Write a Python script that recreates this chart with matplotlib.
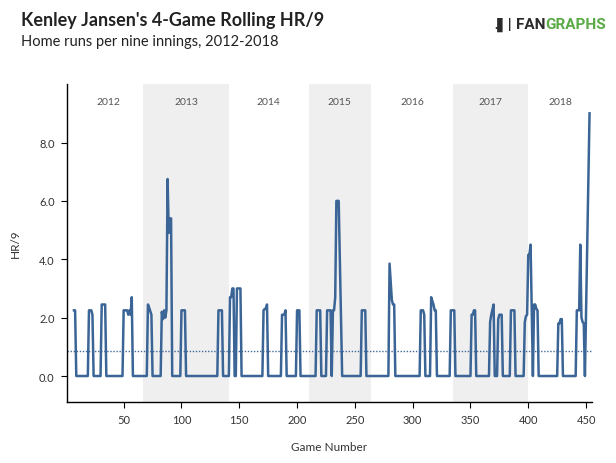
import matplotlib
matplotlib.use("Agg")
import matplotlib.pyplot as plt

# -----------------------------
# Data
# -----------------------------

# break points of the 4-game rolling HR/9 line
game = [7, 8, 9,
        19, 20, 22, 23, 24,
        30, 31, 34, 35,
        49, 50, 53, 54, 55, 56, 57, 58,
        70, 71, 72, 74, 75,
        82, 83, 84, 85, 86, 87, 88, 89, 90, 91, 92,
        99, 100, 103, 104,
        131, 132, 135, 136,
        141, 142, 143, 144, 145, 146, 147, 148, 151, 152,
        170, 171, 172, 173, 174, 175,
        186, 187, 189, 190, 191,
        199, 200, 202, 203,
        216, 217, 220, 221,
        225, 226, 229, 230, 231, 232, 233, 234, 236, 239,
        255, 256, 259, 260,
        279, 280, 282, 283, 284, 285,
        306, 307, 309, 310, 311,
        315, 316, 318, 319, 320, 321,
        332, 333, 336, 337,
        350, 351, 352, 353, 354, 355,
        366, 367, 368, 370, 371, 373, 374, 375, 377, 378,
        384, 385, 388, 389,
        396, 397, 398, 399, 400, 401, 402, 404, 405, 406, 407, 408, 409,
        425, 426, 427, 428, 429, 430,
        441, 442, 444, 445, 446, 447, 448, 449, 453]

hr9 = [2.25, 2.25, 0,
       0, 2.25, 2.25, 2.1, 0,
       0, 2.45, 2.45, 0,
       0, 2.25, 2.25, 2.1, 2.25, 2.1, 2.7, 0,
       0, 2.45, 2.35, 2.1, 0,
       0, 2.2, 1.95, 2.25, 2.0, 2.25, 6.75, 4.9, 5.4, 5.4, 0,
       0, 2.25, 2.25, 0,
       0, 2.25, 2.25, 0,
       0, 2.7, 2.7, 3.0, 3.0, 0, 0, 3.0, 3.0, 0,
       0, 2.25, 2.3, 2.3, 2.45, 0,
       0, 2.1, 2.1, 2.25, 0,
       0, 2.25, 2.25, 0,
       0, 2.25, 2.25, 0,
       0, 2.25, 2.25, 0, 2.25, 2.25, 2.7, 6.0, 6.0, 0,
       0, 2.25, 2.25, 0,
       0, 3.85, 2.6, 2.45, 2.45, 0,
       0, 2.25, 2.25, 2.1, 0,
       0, 2.7, 2.45, 2.25, 2.25, 0,
       0, 2.25, 2.25, 0,
       0, 2.1, 2.1, 2.25, 2.25, 0,
       0, 1.85, 2.1, 2.45, 0, 0, 1.95, 2.1, 2.1, 0,
       0, 2.25, 2.25, 0,
       0, 1.85, 2.05, 2.1, 4.15, 4.15, 4.5, 0, 2.45, 2.45, 2.3, 2.25, 0,
       0, 1.8, 1.8, 1.95, 1.95, 0,
       0, 2.25, 2.25, 4.5, 2.0, 1.85, 1.8, 0, 9.0]

# seasons (first game number of each season)
years = ["2012", "2013", "2014", "2015", "2016", "2017", "2018"]
season_start = [7, 67, 141, 210, 264, 335, 400]
season_end = 455

career_hr9 = 0.84

line_color = "#3b6596"
shade_color = "#efefef"
text_color = "#333333"

plt.rcParams['font.family'] = ['Lato', 'DejaVu Sans']

# -----------------------------
# Figure
# -----------------------------

fig = plt.figure(figsize=(6.16, 4.64), dpi=100)
ax = fig.add_axes([0.1088, 0.1315, 0.852, 0.685])

ax.set_xlim(1, season_end)
ax.set_ylim(-0.89, 10)

# season shading + labels
bounds = season_start + [season_end]
for i, yr in enumerate(years):
    x0 = bounds[i]
    x1 = bounds[i + 1]
    if i % 2 == 1:
        ax.axvspan(x0, x1, color=shade_color, lw=0, zorder=0)
    ax.text((x0 + x1) / 2, 9.42, yr, ha='center', va='center',
            fontsize=7.5, color='#555555')

ax.axhline(career_hr9, color='#3f6a9c', lw=1.0, ls=(0, (1, 1.2)), zorder=1)

ax.plot(game, hr9, color=line_color, lw=1.8, zorder=2,
        solid_joinstyle='round')

ax.set_xticks([50, 100, 150, 200, 250, 300, 350, 400, 450])
ax.set_yticks([0, 2, 4, 6, 8])
ax.set_yticklabels(["0.0", "2.0", "4.0", "6.0", "8.0"])
ax.tick_params(axis='both', labelsize=8, length=4, width=0.8, pad=5,
               colors='black', labelcolor=text_color)

ax.spines['top'].set_visible(False)
ax.spines['right'].set_visible(False)
ax.spines['left'].set_linewidth(1.0)
ax.spines['bottom'].set_linewidth(1.0)

ax.set_xlabel("Game Number", fontsize=8.5, color=text_color, labelpad=11)
ax.set_ylabel("HR/9", fontsize=8.5, color=text_color, labelpad=13)

# titles
fig.text(0.034, 0.955, "Kenley Jansen's 4-Game Rolling HR/9", fontsize=13,
         fontweight='bold', color='#222222', va='center')
fig.text(0.034, 0.910, "Home runs per nine innings, 2012-2018", fontsize=10.5,
         color='#222222', va='center')

# logo
fig.text(0.803, 0.946, ".\u258c|", fontsize=10, fontweight='bold',
         color='#2b2b2b', va='center')
t_fan = fig.text(0.838, 0.946, "FAN", fontsize=11, fontweight='bold',
                 color='#2b2b2b', va='center', family=['Roboto', 'DejaVu Sans'])
fig.canvas.draw()
bb = t_fan.get_window_extent()
fig.text(bb.x1 / fig.bbox.width, 0.946, "GRAPHS", fontsize=11,
         fontweight='bold', color='#5aaa46', va='center',
         family=['Roboto', 'DejaVu Sans'])

fig.savefig("out.png", dpi=100)
